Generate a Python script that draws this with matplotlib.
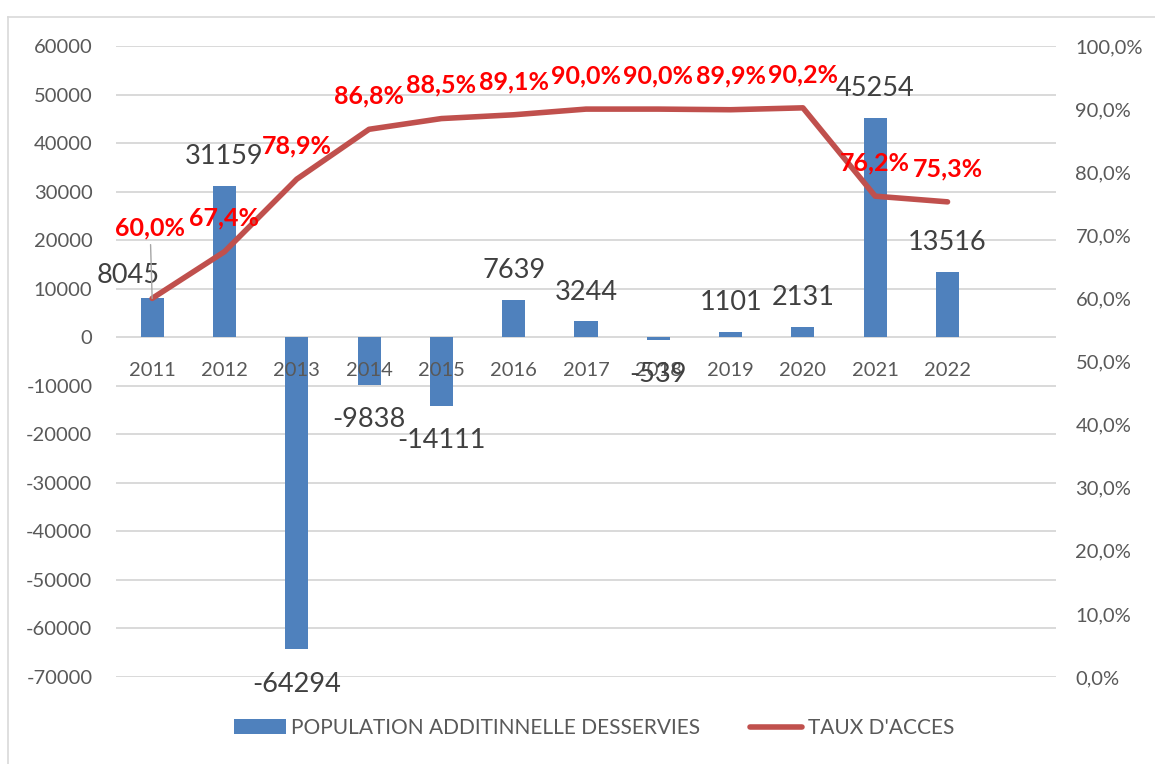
import matplotlib
matplotlib.use("Agg")
import matplotlib.pyplot as plt
from matplotlib.patches import Patch
from matplotlib.lines import Line2D

plt.rcParams['font.family'] = ['Lato', 'DejaVu Sans']

years = ['2011', '2012', '2013', '2014', '2015', '2016', '2017', '2018', '2019', '2020', '2021', '2022']
population = [8045, 31159, -64294, -9838, -14111, 7639, 3244, -539, 1101, 2131, 45254, 13516]
taux = [60.0, 67.4, 78.9, 86.8, 88.5, 89.1, 90.0, 90.0, 89.9, 90.2, 76.2, 75.3]
left_ticks = list(range(-70000, 60001, 10000))
right_ticks = list(range(0, 101, 10))
bar_name = 'POPULATION ADDITINNELLE DESSERVIES'
line_name = "TAUX D'ACCES"

BLUE = '#4F81BD'
RED = '#C0504D'
GRID = '#D9D9D9'
TXT = '#595959'
LBL = '#404040'

W, H = 1155, 764
fig = plt.figure(figsize=(W / 100, H / 100), dpi=100)
ax = fig.add_axes([116 / W, 1 - 677 / H, (1056 - 116) / W, (677 - 46) / H])
x = list(range(len(years)))

ax.bar(x, population, width=0.32, color=BLUE, zorder=2)
ax.set_xlim(-0.5, 12.5)
ax.set_ylim(-70000, 60000)
ax.set_yticks(left_ticks)
ax.set_yticklabels([str(v) for v in left_ticks])
for v in left_ticks:
    ax.axhline(v, color=GRID, linewidth=1.4, zorder=0.5)
ax.set_axisbelow(False)
for s in ax.spines.values():
    s.set_visible(False)
ax.spines['bottom'].set_position(('data', 0))
ax.set_xticks(x)
ax.set_xticklabels(years)
ax.tick_params(axis='x', length=0, pad=18, labelsize=14.5, labelcolor=TXT)
ax.tick_params(axis='y', length=0, pad=17, labelsize=14.5, labelcolor=TXT)

ax2 = ax.twinx()
ax2.set_ylim(0, 100)
ax2.set_yticks(right_ticks)
ax2.set_yticklabels([f"{v:.1f}%".replace('.', ',') for v in right_ticks])
ax2.tick_params(axis='y', length=0, pad=14, labelsize=14.5, labelcolor=TXT)
for s in ax2.spines.values():
    s.set_visible(False)
ax2.plot(x, taux, color=RED, linewidth=4, solid_capstyle='round', solid_joinstyle='round', zorder=3)

# bar labels
for xi, v in zip(x, population):
    if xi == 0:
        off = (-17, 16.5)
    elif v >= 0:
        off = (0, 21)
    else:
        off = (0, -25)
    ax2.annotate(str(v), xy=(xi, v), xycoords=ax.transData, xytext=off,
                 textcoords='offset points', ha='center', va='center',
                 fontsize=19.5, color=LBL, annotation_clip=False, zorder=4)

# percentage labels
for xi, t in zip(x, taux):
    s = f"{t:.1f}%".replace('.', ',')
    if xi == 0:
        ax2.annotate(s, xy=(xi, t), xytext=(-1.5, 51), textcoords='offset points',
                     ha='center', va='center', fontsize=18, fontweight='bold', color='#FF0000',
                     annotation_clip=False, zorder=5,
                     arrowprops=dict(arrowstyle='-', color='#A6A6A6', lw=1, shrinkA=2, shrinkB=0))
    else:
        ax2.annotate(s, xy=(xi, t), xytext=(0, 24), textcoords='offset points',
                     ha='center', va='center', fontsize=18, fontweight='bold', color='#FF0000',
                     annotation_clip=False, zorder=5)

handles = [Patch(facecolor=BLUE, edgecolor='none'),
           Line2D([0], [0], color=RED, linewidth=4, solid_capstyle='round')]
fig.legend(handles, [bar_name, line_name], loc='center', bbox_to_anchor=(594 / W, 1 - 728 / H),
           ncol=2, frameon=False, fontsize=15, handlelength=2.5, handleheight=0.7,
           handletextpad=0.25, columnspacing=2.4, labelcolor=TXT)

# chart frame
fig.add_artist(Line2D([8 / W, 1.0], [1 - 17 / H, 1 - 17 / H], color=GRID, lw=1.2, transform=fig.transFigure))
fig.add_artist(Line2D([8 / W, 8 / W], [0, 1 - 17 / H], color=GRID, lw=1.2, transform=fig.transFigure))

fig.savefig('out.png', dpi=100)
